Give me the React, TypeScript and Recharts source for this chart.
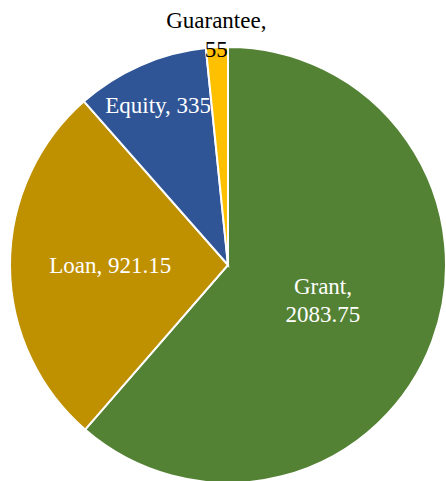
import React from 'react';
import { PieChart, Pie, Cell } from 'recharts';

const categories = ['Grant', 'Loan', 'Equity', 'Guarantee'];
const amounts = [2083.75, 921.15, 335, 55];
const colors = ['#548235', '#BF9000', '#2F5597', '#FFC000'];

const data = categories.map((name, i) => ({ name, value: amounts[i] }));

const RAD = Math.PI / 180;
// label distance from centre, as share of radius (Excel "best fit" look)
const labelRadius: Record<string, number> = { Grant: 0.465, Loan: 0.54, Equity: 0.8, Guarantee: 1.056 };

const renderLabel = (props: any) => {
  const { cx, cy, midAngle, outerRadius, name, value } = props;
  const r = outerRadius * (labelRadius[name] ?? 0.6);
  const x = cx + r * Math.cos(-midAngle * RAD);
  const y = cy + r * Math.sin(-midAngle * RAD);
  const fill = name === 'Guarantee' ? '#000' : '#fff';
  const twoLines = name === 'Grant' || name === 'Guarantee';
  const style = { fontFamily: '"Liberation Serif", serif', fontSize: 23 };
  if (twoLines) {
    return (
      <text x={x} y={y} fill={fill} textAnchor="middle" style={style}>
        <tspan x={x} dy="-0.3em">{name},</tspan>
        <tspan x={x} dy="1.25em">{value}</tspan>
      </text>
    );
  }
  return (
    <text x={x} y={y} fill={fill} textAnchor="middle" dominantBaseline="central" style={style}>
      {name}, {value}
    </text>
  );
};

export default function App() {
  return (
    <div style={{ position: 'fixed', top: 0, left: 0, width: 446, height: 481, background: '#fff' }}>
      <PieChart width={446} height={481} margin={{ top: 0, right: 0, bottom: 0, left: 0 }}>
        <Pie
          data={data}
          dataKey="value"
          nameKey="name"
          cx={228}
          cy={265}
          outerRadius={218}
          startAngle={90}
          endAngle={-270}
          stroke="#fff"
          strokeWidth={2}
          label={renderLabel}
          labelLine={false}
          isAnimationActive={false}
        >
          {data.map((d, i) => (
            <Cell key={d.name} fill={colors[i]} />
          ))}
        </Pie>
      </PieChart>
    </div>
  );
}
